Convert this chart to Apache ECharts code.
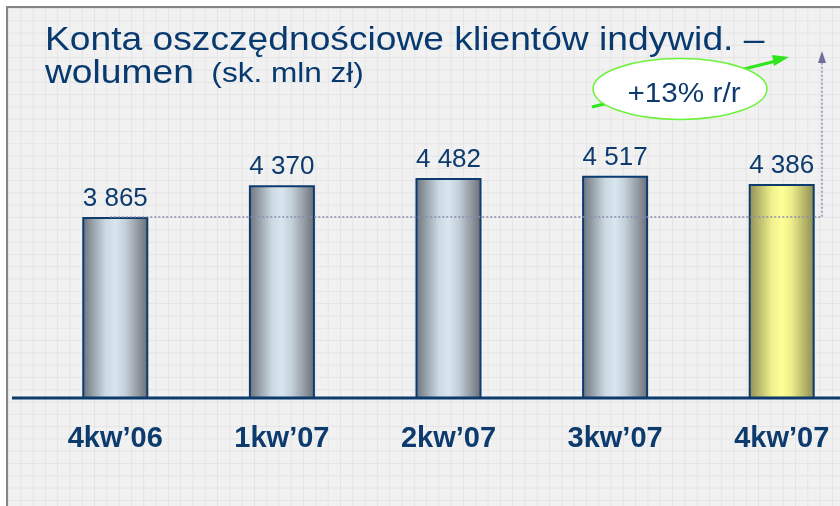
<!DOCTYPE html>
<html>
<head>
<meta charset="utf-8">
<script src="https://cdn.jsdelivr.net/npm/echarts@6/dist/echarts.min.js"></script>
<style>
  html, body { margin: 0; padding: 0; background: #ffffff; overflow: hidden; width: 840px; height: 506px; }
  #frame {
    position: absolute; left: 6px; top: 6px; width: 840px; height: 506px;
    border-left: 2px solid #858585; border-top: 2px solid #858585;
    background-color: #f1f1f1;
    background-image:
      linear-gradient(#e4e4e4 1px, transparent 1px),
      linear-gradient(90deg, #e4e4e4 1px, transparent 1px);
    background-size: 12.3px 12.3px;
  }
  #chart { position: absolute; left: 0; top: 0; width: 870px; height: 506px; }
</style>
</head>
<body>
<div id="frame"></div>
<div id="chart"></div>
<script>
// Quarterly volume of individual-client savings accounts (mln PLN)
const quarters = ['4kw\u201906', '1kw\u201907', '2kw\u201907', '3kw\u201907', '4kw\u201907'];
const volumes = [3865, 4370, 4482, 4517, 4386];
const growthLabel = '+13% r/r';
const highlightIndex = 4;

const NAVY = '#0d3b6e';
const FONT = '"Liberation Sans", Arial, sans-serif';

const grayFill = new echarts.graphic.LinearGradient(0, 0, 1, 0, [
  { offset: 0, color: '#6b7179' },
  { offset: 0.35, color: '#cbd9e3' },
  { offset: 0.5, color: '#d9e6ef' },
  { offset: 0.65, color: '#c4d0d9' },
  { offset: 1, color: '#696d75' }
]);
const yellowFill = new echarts.graphic.LinearGradient(0, 0, 1, 0, [
  { offset: 0, color: '#8d8d55' },
  { offset: 0.35, color: '#f0f08c' },
  { offset: 0.5, color: '#ffff99' },
  { offset: 0.65, color: '#eded8a' },
  { offset: 1, color: '#8a8a52' }
]);

function fmt(v) {
  return String(v).replace(/\B(?=(\d{3})+(?!\d))/g, ' ');
}

const chart = echarts.init(document.getElementById('chart'), null, { renderer: 'canvas' });

chart.setOption({
  backgroundColor: 'transparent',
  animation: false,
  grid: { left: 32, right: 5, top: 19, bottom: 108 },
  xAxis: {
    type: 'category',
    data: quarters,
    axisLine: { show: false },
    axisTick: { show: false },
    axisLabel: {
      margin: 26,
      color: NAVY,
      fontFamily: FONT,
      fontWeight: 'bold',
      fontSize: 29
    }
  },
  yAxis: {
    type: 'value',
    min: 1000,
    max: 7000,
    show: false,
    splitLine: { show: false }
  },
  series: [{
    type: 'bar',
    barWidth: 66,
    data: volumes.map((v, i) => ({
      value: v,
      itemStyle: { color: i === highlightIndex ? yellowFill : grayFill }
    })),
    itemStyle: { borderColor: NAVY, borderWidth: 2 },
    label: {
      show: true,
      position: 'top',
      distance: 5,
      color: NAVY,
      fontFamily: FONT,
      fontSize: 26,
      formatter: p => fmt(p.value)
    },
    z: 2
  }]
});

// Overlay elements placed from the chart's own scales
const base = chart.convertToPixel({ seriesIndex: 0 }, [0, 1000]);
const first = chart.convertToPixel({ seriesIndex: 0 }, [0, volumes[0]]);
const refY = first[1];
const arrowX = 822;

chart.setOption({
  graphic: [
    // baseline
    {
      type: 'line', z: 10,
      shape: { x1: 12, y1: base[1], x2: 840, y2: base[1] },
      style: { stroke: NAVY, lineWidth: 3 }
    },
    // dotted reference level of the first quarter
    {
      type: 'polyline', z: 10,
      shape: { points: [[first[0] - 5, refY], [arrowX, refY], [arrowX, 60]] },
      style: { stroke: '#8a8aae', lineWidth: 1.5, lineDash: [2, 2], fill: null }
    },
    {
      type: 'polygon', z: 10,
      shape: { points: [[arrowX, 51], [arrowX - 4, 63], [arrowX + 4, 63]] },
      style: { fill: '#6e6e9c' }
    },
    // green growth arrow
    {
      type: 'line', z: 11,
      shape: { x1: 592, y1: 107, x2: 776, y2: 61 },
      style: { stroke: '#2fe61c', lineWidth: 3 }
    },
    {
      type: 'polygon', z: 11,
      shape: { points: [[789, 57], [774, 66], [772, 55]] },
      style: { fill: '#2fe61c' }
    },
    // growth badge
    {
      type: 'ellipse', z: 12,
      shape: { cx: 680, cy: 89, rx: 87, ry: 30.5 },
      style: { fill: '#ffffff', stroke: '#6cf23a', lineWidth: 1.5 }
    },
    {
      type: 'text', z: 13,
      x: 684, y: 95, scaleX: 1.1,
      style: {
        x: 0, y: 0, text: growthLabel,
        align: 'center', verticalAlign: 'middle',
        fill: NAVY, font: '27px ' + FONT
      }
    },
    // title
    {
      type: 'text', z: 13,
      x: 45, y: 24, scaleX: 1.127,
      style: {
        x: 0, y: 0, text: 'Konta oszczędnościowe klientów indywid. \u2013',
        fill: '#083a70', font: '33px ' + FONT
      }
    },
    {
      type: 'text', z: 13,
      x: 45, y: 57, scaleX: 1.127,
      style: {
        x: 0, y: 0,
        text: '{a|wolumen}{b|  (sk. mln zł)}',
        rich: {
          a: { fill: '#083a70', font: '33px ' + FONT },
          b: { fill: '#083a70', font: '28px ' + FONT, padding: [2, 0, 0, 0] }
        }
      }
    }
  ]
});
</script>
</body>
</html>
